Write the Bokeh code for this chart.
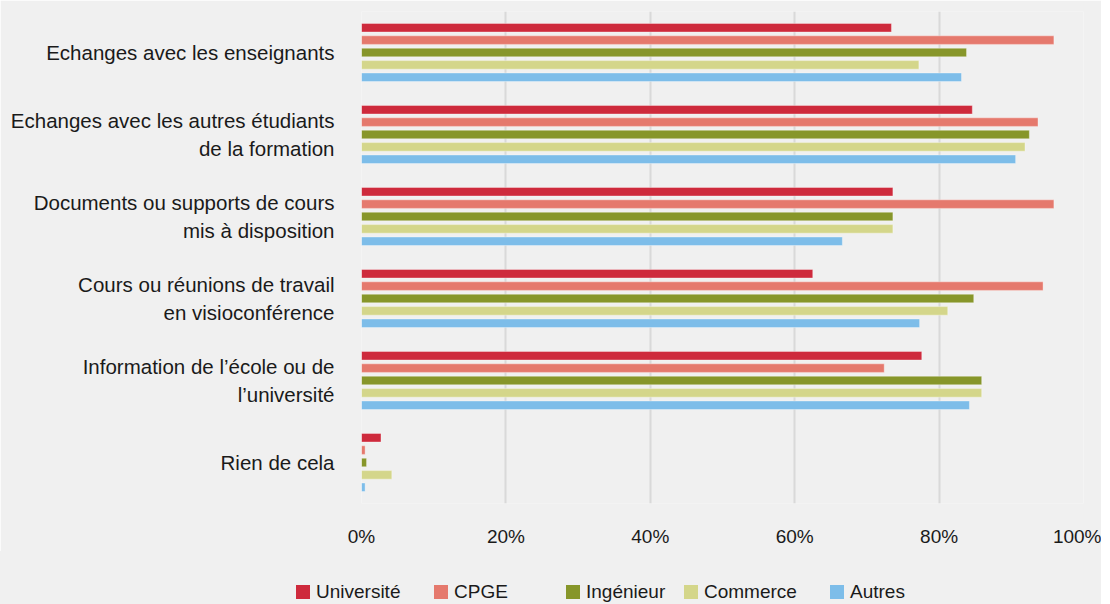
from bokeh.plotting import figure
from bokeh.layouts import column
from bokeh.models import (ColumnDataSource, FactorRange, Range1d, Div,
                          PrintfTickFormatter, FixedTicker)
from bokeh.transform import dodge
from bokeh.embed import file_html
from bokeh.resources import INLINE

categories = [
    "Echanges avec les enseignants",
    "Echanges avec les autres étudiants\nde la formation",
    "Documents ou supports de cours\nmis à disposition",
    "Cours ou réunions de travail\nen visioconférence",
    "Information de l\u2019école ou de\nl\u2019université",
    "Rien de cela",
]
series_names = ["Université", "CPGE", "Ingénieur", "Commerce", "Autres"]
universite = [73.4, 84.6, 73.6, 62.5, 77.6, 2.7]
cpge = [95.9, 93.7, 95.9, 94.4, 72.4, 0.5]
ingenieur = [83.8, 92.5, 73.6, 84.8, 85.9, 0.7]
commerce = [77.2, 91.9, 73.6, 81.2, 85.9, 4.2]
autres = [83.1, 90.6, 66.6, 77.3, 84.2, 0.5]
x_ticks = [0, 20, 40, 60, 80, 100]

colors = ["#CE2A3C", "#E5796D", "#87962A", "#D4D68A", "#7DBDE9"]
series_values = [universite, cpge, ingenieur, commerce, autres]

FONT = "Liberation Sans"
BG = "#F0F0F0"
TOTAL_W = 1101

source = ColumnDataSource(dict(cat=categories, **{f"s{i}": v for i, v in enumerate(series_values)}))

p = figure(frame_width=722, frame_height=492, output_backend="svg", toolbar_location=None,
           y_range=FactorRange(*reversed(categories)), x_range=Range1d(0, 100),
           background_fill_color=BG, border_fill_color=BG,
           min_border_left=361, min_border_right=18, min_border_top=11, min_border_bottom=48)
p.outline_line_color = None
p.y_range.range_padding = 0

pitch = 0.151
for i, col in enumerate(colors):
    p.hbar(y=dodge("cat", (2 - i) * pitch, range=p.y_range), left=0, right=f"s{i}",
           height=0.104, source=source, fill_color=col, line_color="white",
           line_alpha=0.35, line_width=1)

p.xgrid.grid_line_color = "#D9D9D9"
p.xgrid.grid_line_width = 2
p.ygrid.grid_line_color = None

p.xaxis.ticker = FixedTicker(ticks=x_ticks)
p.xaxis.formatter = PrintfTickFormatter(format="%d%%")
for ax in (p.xaxis[0], p.yaxis[0]):
    ax.axis_line_color = None
    ax.major_tick_line_color = None
    ax.minor_tick_line_color = None
    ax.major_tick_out = 0
    ax.minor_tick_out = 0
    ax.major_tick_in = 0
    ax.minor_tick_in = 0
    ax.major_label_text_font = FONT
    ax.major_label_text_color = "#1A1A1A"
p.xaxis.major_label_standoff = 22
p.xaxis.major_label_text_font_size = "19px"
p.yaxis.major_label_text_font_size = "20.5px"
p.yaxis.major_label_standoff = 27
p.yaxis.major_label_text_line_height = 1.23

# legend strip below the chart (left offsets of each legend entry, in px)
legend_left = [296, 434, 566, 684, 830]
entries = []
for name, col, x in zip(series_names, colors, legend_left):
    entries.append(
        f'<div style="position:absolute;left:{x}px;top:31px;height:20px;display:flex;'
        f'align-items:center;white-space:nowrap;">'
        f'<span style="display:inline-block;width:14px;height:14px;background:{col};'
        f'margin-right:6px;"></span>{name}</div>'
    )
html = (f'<div style="position:relative;width:{TOTAL_W}px;height:53px;background:{BG};'
        f'font-family:\'{FONT}\';font-size:19px;color:#1A1A1A;">' + "".join(entries) + "</div>")
legend_div = Div(text=html, width=TOTAL_W, height=53,
                 styles={"background-color": BG, "margin": "0", "padding": "0"})

layout = column(p, legend_div, spacing=0)
open("out.html", "w").write(file_html(layout, INLINE))
